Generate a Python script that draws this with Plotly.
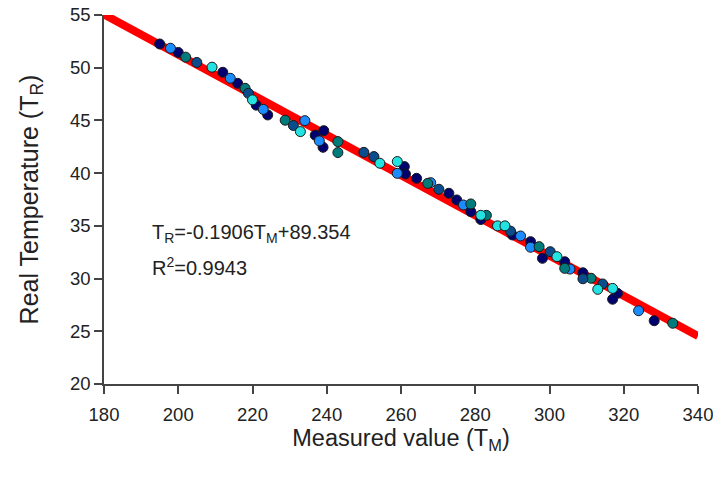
import plotly.graph_objects as go

# Measured value (T_M) and real temperature (T_R), grouped by marker colour
navy_x = [195.0, 200.0, 212.0, 216.0, 221.0, 224.1, 236.9, 239.2, 239.0, 260.9, 261.2, 264.2,
          272.9, 275.0, 278.8, 281.5, 290.0, 294.9, 298.1, 304.1, 309.0, 318.3, 317.0, 328.2]
navy_y = [52.25, 51.45, 49.57, 48.52, 46.45, 45.52, 43.6, 44.03, 42.45, 40.62, 39.92, 39.51,
          38.09, 37.46, 36.35, 35.6, 34.14, 33.5, 31.92, 31.6, 30.55, 28.6, 28.04, 26.0]

dodger_x = [197.9, 214.0, 222.9, 234.1, 238.0, 259.0, 268.0, 276.8, 292.2, 294.9, 305.5, 324.0]
dodger_y = [51.85, 49.0, 46.05, 44.98, 43.06, 39.98, 39.1, 36.98, 34.04, 32.97, 30.9, 26.95]

teal_x = [202.0, 218.0, 228.8, 243.0, 243.0, 267.2, 278.8, 283.0, 297.2, 304.1, 311.2, 333.2]
teal_y = [51.0, 48.05, 45.02, 42.99, 41.95, 39.03, 37.08, 36.0, 33.03, 30.97, 30.03, 25.76]

steel_x = [205.0, 218.9, 231.0, 250.0, 252.7, 270.2, 289.5, 300.2, 309.0, 314.3]
steel_y = [50.5, 47.57, 44.52, 41.97, 41.57, 38.47, 34.5, 32.55, 29.98, 29.49]

cyan_x = [209.1, 220.0, 232.9, 254.3, 259.0, 281.5, 286.0, 288.0, 302.0, 313.0, 317.0]
cyan_y = [50.05, 46.95, 43.94, 40.94, 41.1, 36.0, 35.0, 35.0, 32.08, 28.98, 29.07]

# Regression line end points
fit_x = [180, 340]
fit_y = [55.05, 24.55]

x_ticks = [180, 200, 220, 240, 260, 280, 300, 320, 340]
y_ticks = [20, 25, 30, 35, 40, 45, 50, 55]

FONT = "Arial, Liberation Sans, sans-serif"

fig = go.Figure()
fig.add_trace(go.Scatter(x=fit_x, y=fit_y, mode="lines",
                         line=dict(color="#FF0000", width=8), showlegend=False,
                         hoverinfo="skip"))

groups = [
    (navy_x, navy_y, "#00006E"),
    (dodger_x, dodger_y, "#1A8CFF"),
    (teal_x, teal_y, "#007B7B"),
    (steel_x, steel_y, "#0A4C8C"),
    (cyan_x, cyan_y, "#22E2E2"),
]
for gx, gy, col in groups:
    fig.add_trace(go.Scatter(x=gx, y=gy, mode="markers", cliponaxis=False,
                             marker=dict(size=10, color=col,
                                         line=dict(color="#1a1a1a", width=1)),
                             showlegend=False))

fig.add_annotation(x=192.4, y=34.3, xref="x", yref="y", xanchor="left", yanchor="middle",
                   text="T<sub>R</sub>=-0.1906T<sub>M</sub>+89.354", showarrow=False,
                   font=dict(family=FONT, size=20, color="#222222"))
fig.add_annotation(x=192.4, y=31.1, xref="x", yref="y", xanchor="left", yanchor="middle",
                   text="R<sup>2</sup>=0.9943", showarrow=False,
                   font=dict(family=FONT, size=20, color="#222222"))

axis_common = dict(showgrid=False, zeroline=False, showline=True, linecolor="#444444",
                   linewidth=1.5, ticks="outside", ticklen=8, tickcolor="#444444",
                   tickwidth=1.5, automargin=False, ticklabeloverflow="allow",
                   tickfont=dict(family=FONT, size=18.5, color="#222222"))

fig.update_layout(
    width=713, height=477,
    margin=dict(l=104, r=15, t=15, b=93, autoexpand=False),
    paper_bgcolor="white", plot_bgcolor="white",
    xaxis=dict(range=[179.999, 340.001], tickvals=x_ticks, ticktext=[str(v) for v in x_ticks],
               ticklabelstandoff=5,
               title=dict(text="Measured value (T<sub>M</sub>)",
                          font=dict(family=FONT, size=23.5, color="#222222"), standoff=4),
               **axis_common),
    yaxis=dict(range=[19.9999, 55.0001], tickvals=y_ticks, ticktext=[str(v) for v in y_ticks],
               title=dict(text="Real Temperature (T<sub>R</sub>)",
                          font=dict(family=FONT, size=25, color="#222222"), standoff=24),
               **axis_common),
)

fig.write_html("out.html")
